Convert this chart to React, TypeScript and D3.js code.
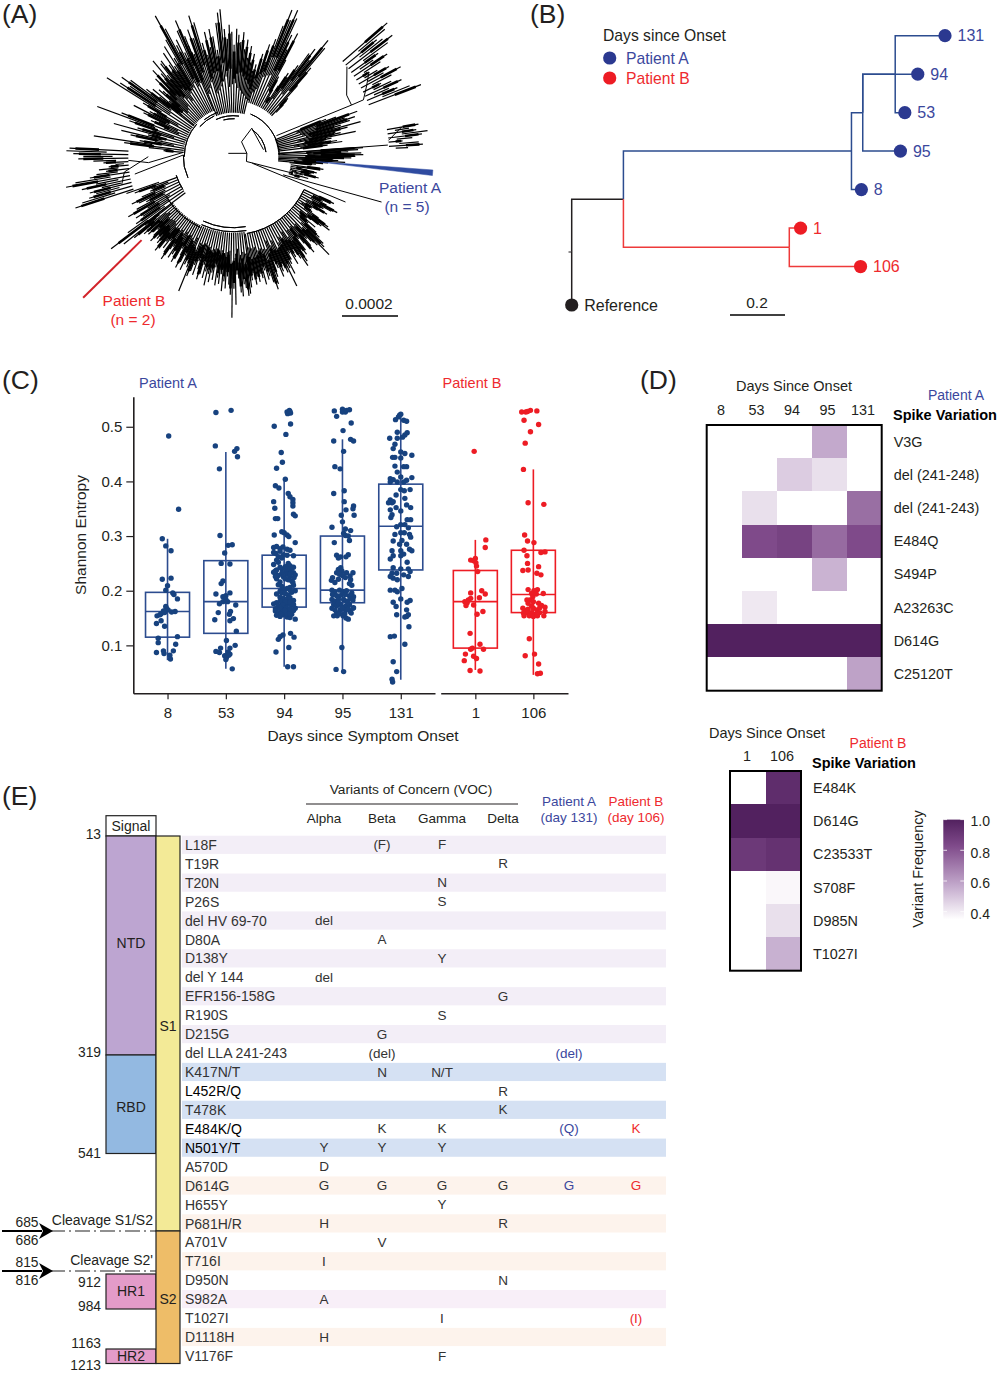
import React, { useRef, useEffect } from 'react';
import * as d3 from 'd3';

const FONT = '"Liberation Sans", Arial, sans-serif';
const INK = '#231f20';
const BLUE_TXT = '#3b479d';
const RED_TXT = '#ee2a2e';
const BLUE_MARK = '#17427f';
const BLUE_BOX = '#2c4c8f';
const RED_MARK = '#ed1c24';

// ---------- panel A: radial tree, angles in degrees clockwise from north, radii
interface Clade { from: number; to: number; inner: number; tips: number[] }

const clades: Clade[] = [
  { from: 16, to: 44, inner: 56, tips: [107, 88, 118, 100, 125, 140, 158, 148, 160, 152, 135, 120, 139, 110, 92, 78, 70, 84, 100, 96, 112, 128, 135, 123, 150, 142, 118, 96, 80, 72] },
  { from: 338, to: 375, inner: 44, tips: [120, 110, 135, 125, 148, 140, 118, 105, 128, 112, 130, 122, 108, 135, 145, 148, 128, 118, 132, 125, 112, 128, 122, 115, 125, 108, 118, 100, 112, 96, 105, 88, 95, 85] },
  { from: 309, to: 338, inner: 50, tips: [90, 105, 85, 100, 96, 88, 110, 92, 118, 100, 110, 125, 105, 118, 120, 105, 112, 125, 108, 130, 115, 135, 161, 145, 125, 130, 115, 138, 148, 130] },
  { from: 275, to: 309, inner: 50, tips: [70, 85, 110, 141, 95, 80, 105, 115, 88, 124, 100, 85, 110, 145, 120, 75, 90, 82, 100, 112, 95, 88, 105, 149, 135, 125, 137, 128, 110, 95] },
  { from: 252, to: 273, inner: 105, tips: [166, 158, 150, 142, 148, 135, 155, 140, 170, 160, 145, 138, 128, 135, 125, 118, 130, 140, 155, 150, 160, 167, 164] },
  { from: 233, to: 251, inner: 60, tips: [153, 130, 118, 108, 115, 100, 121, 110, 98, 105, 112, 100, 90, 88, 105, 113] },
  { from: 172, to: 233, inner: 76, tips: [125, 138, 140, 132, 128, 140, 136, 122, 118, 148, 132, 161, 138, 128, 120, 132, 125, 135, 118, 128, 122, 130, 112, 125, 118, 128, 120, 132, 118, 125, 112, 122, 128, 118, 110, 125, 115, 122, 128, 145, 120, 112, 118, 125, 110, 118, 125, 112, 105, 118, 122, 110, 115, 120, 108, 112, 125, 118, 105, 115, 108, 118, 122, 110, 115, 105, 112, 108, 118, 112, 105, 110, 115, 100, 118, 108, 128, 140, 112, 100] },
  { from: 115, to: 172, inner: 78, tips: [111, 108, 100, 105, 118, 112, 104, 98, 110, 100, 94, 90, 96, 105, 118, 121, 112, 100, 96, 108, 100, 112, 118, 125, 128, 137, 122, 115, 110, 118, 125, 112, 105, 118, 122, 115, 128, 132, 122, 110, 118, 125, 112, 118, 122, 132, 125, 144, 128, 118, 125, 130, 120, 112, 128, 135, 140, 132, 125, 128, 118, 132, 125, 120, 128, 122, 130, 118, 125, 132] },
  { from: 49, to: 69, inner: 145, tips: [204, 198, 185, 190, 200, 192, 178, 170, 185, 175, 160, 168, 180, 172, 190, 178, 165, 175, 185, 170, 178, 190, 201] },
  { from: 68, to: 83, inner: 45, tips: [100, 110, 132, 118, 128, 122, 112, 132, 118, 105, 110, 125, 100, 92, 105, 110, 95] },
  { from: 80, to: 87, inner: 156, tips: [188, 178, 185, 196, 190, 180, 170, 186, 190, 175] },
  { from: 86, to: 96, inner: 45, tips: [130, 125, 115, 128, 130, 122, 118, 100, 105, 112, 95, 90, 83, 78] },
  { from: 98, to: 107, inner: 58, tips: [91, 88, 70, 75, 85, 60, 80, 65, 88, 72, 62, 78, 70] },
];

// [from, to, radius]
const ringArcs: number[][] = [
  [22, 88, 46], [35, 82, 33], [270, 312, 49], [312, 335, 45], [335, 368, 41], [322, 340, 47], [345, 362, 38],
  [115, 170, 78], [170, 205, 75], [170, 205, 71], [205, 240, 78], [237, 252, 60], [245, 272, 50],
];

// [angle, radius, angle, radius]
const treeStems: number[][] = [
  [304, 6, 76, 14], [76, 14, 29, 17], [29, 17, 33, 34], [33, 34, 77, 31], [76, 14, 110, 14], [110, 14, 105.5, 62],
  [110, 53, 107, 155], [109, 20, 112, 121], [64, 48, 66.4, 129], [51.6, 145, 61.5, 129], [61.5, 129, 66.4, 129], [66.4, 129, 66.4, 142],
  [66.4, 142, 62, 151], [62, 151, 58, 160], [85.7, 46, 85.7, 155], [84, 156, 80, 171], [275, 50, 266, 85], [266, 85, 268, 105],
  [272, 50, 260, 100], [270, 85, 262, 110], [262, 110, 256, 115],
];
const patientAWedge = [[93.4, 83], [93.8, 200], [95.4, 200]];
const patientBBranch = [[226.8, 206], [227.7, 124]];

// ---------- panel B: phylogeny of the patient samples
const treeNodes = [
  { id: 'root', parent: '', dist: 0, rank: 5.6, color: INK, label: '' },
  { id: 'ref', parent: 'root', dist: 0, rank: 7, color: INK, label: 'Reference' },
  { id: 'n0', parent: 'root', dist: 0.188, rank: 4.25, color: INK, label: '' },
  { id: 'n1', parent: 'n0', dist: 1.017, rank: 3, color: BLUE_BOX, label: '' },
  { id: 'nr', parent: 'n0', dist: 0.791, rank: 5.5, color: '#ee3a3a', label: '' },
  { id: 'x', parent: 'n1', dist: 1.058, rank: 2, color: BLUE_BOX, label: '' },
  { id: 's8', parent: 'n1', dist: 1.053, rank: 4, color: BLUE_BOX, label: '8' },
  { id: 's95', parent: 'x', dist: 1.195, rank: 3, color: BLUE_BOX, label: '95' },
  { id: 's94', parent: 'x', dist: 1.258, rank: 1, color: BLUE_BOX, label: '94' },
  { id: 'y', parent: 'x', dist: 1.176, rank: 1, color: BLUE_BOX, label: '' },
  { id: 's131', parent: 'y', dist: 1.357, rank: 0, color: BLUE_BOX, label: '131' },
  { id: 's53', parent: 'y', dist: 1.211, rank: 2, color: BLUE_BOX, label: '53' },
  { id: 's1', parent: 'nr', dist: 0.832, rank: 5, color: '#ee3a3a', label: '1' },
  { id: 's106', parent: 'nr', dist: 1.05, rank: 6, color: '#ee3a3a', label: '106' },
];

// ---------- panel C: boxes are [whiskerLow, q1, median, q3, whiskerHigh], points are [jitter, entropy]
const daysA = ['8', '53', '94', '95', '131'];
const daysB = ['1', '106'];
const boxes: Record<string, number[]> = {
  '8': [0.073, 0.115, 0.162, 0.197, 0.295],
  '53': [0.057, 0.122, 0.18, 0.255, 0.454],
  '94': [0.061, 0.17, 0.204, 0.265, 0.402],
  '95': [0.052, 0.178, 0.201, 0.3, 0.477],
  '131': [0.037, 0.238, 0.318, 0.395, 0.524],
  '1': [0.055, 0.095, 0.18, 0.237, 0.293],
  '106': [0.046, 0.16, 0.193, 0.274, 0.422],
};
const points: Record<string, number[][]> = {
  '8': [[.02, .483], [.19, .349], [-.09, .295], [-.03, .282], [.06, .273], [.06, .223], [-.09, .221], [0, .209], [-.03, .201], [.09, .196], [.11, .193], [.17, .185], [-.03, .171], [-.02, .168], [-.07, .163], [.01, .165], [.13, .162], [.07, .161], [-.11, .158], [-.05, .16], [-.18, .154], [-.13, .156], [-.19, .14], [-.11, .145], [-.05, .135], [-.16, .113], [.17, .116], [-.16, .105], [.14, .102], [-.19, .087], [-.07, .09], [-.06, .085], [.1, .09], [.04, .082], [.05, .075]],
  '53': [[-.17, .526], [.09, .53], [-.18, .465], [.19, .46], [.15, .455], [.2, .445], [-.11, .423], [-.1, .301], [.04, .283], [.11, .284], [-.02, .269], [-.08, .25], [.07, .249], [-.05, .218], [-.08, .213], [-.17, .194], [0, .191], [.07, .196], [-.05, .189], [0, .184], [-.05, .18], [-.11, .176], [.03, .18], [.17, .174], [.08, .162], [-.13, .16], [.06, .157], [.13, .149], [.07, .145], [-.19, .147], [.18, .126], [.01, .109], [.16, .1], [-.09, .095], [.07, .095], [-.17, .089], [-.11, .087], [.04, .088], [.07, .084], [-.02, .081], [.01, .078], [.05, .082], [0, .074], [.11, .057]],
  '94': [[.05, .527], [.09, .53], [.11, .525], [.06, .524], [.1, .528], [-.17, .501], [.11, .505], [.03, .486], [-.05, .453], [-.03, .435], [-.13, .424], [.02, .404], [-.15, .392], [-.09, .388], [.07, .378], [.1, .372], [.15, .367], [.15, .361], [.15, .355], [-.18, .363], [-.16, .351], [.16, .34], [.19, .337], [-.15, .332], [-.11, .332], [-.04, .308], [0, .306], [.05, .302], [-.17, .302], [.08, .299], [.19, .288],
    [-.18, .279], [-.13, .281], [-.07, .277], [-.02, .28], [.05, .276], [.1, .274], [-.18, .27], [-.14, .268], [-.07, .272], [-.01, .266], [.05, .265], [.16, .264], [-.1, .262], [-.04, .26],
    [-.13, .256], [-.1, .252], [-.18, .248], [.07, .25], [.1, .246], [.02, .244], [.16, .243], [.05, .24], [-.04, .24], [-.13, .238], [-.15, .236], [.1, .238], [.13, .241], [.03, .235], [-.07, .243],
    [-.18, .234], [-.15, .231], [-.1, .228], [-.04, .232], [.05, .23], [.1, .226], [.16, .233], [.19, .229], [-.01, .225], [-.13, .222], [.07, .22], [.13, .218], [-.07, .216], [-.15, .226], [.17, .224], [.02, .222], [.11, .231], [.15, .215],
    [-.1, .211], [-.04, .208], [.1, .206], [.16, .21], [.05, .204], [-.07, .199], [-.01, .202], [.13, .197], [-.13, .194], [.07, .192], [.19, .2], [-.04, .196], [.11, .2], [.02, .195],
    [-.07, .188], [-.01, .186], [.05, .184], [.1, .187], [.16, .182], [-.18, .176], [-.13, .178], [-.1, .172], [.07, .176], [.13, .174], [-.04, .178], [.02, .171], [.19, .168], [-.15, .167], [-.07, .181], [.02, .18], [.1, .179], [.16, .175], [-.02, .174],
    [-.15, .163], [-.1, .16], [-.04, .165], [.02, .158], [.07, .162], [.13, .157], [-.13, .155], [-.07, .153], [-.01, .156], [.05, .152], [.1, .151], [.19, .148], [-.07, .168], [.04, .168], [.1, .167], [.16, .164], [-.02, .161], [.05, .158], [-.05, .158], [.1, .158], [.01, .164], [-.07, .116], [-.02, .119], [-.1, .111], [.11, .122], [.17, .115], [.08, .096], [-.14, .088], [.06, .061], [.16, .061]],
  '95': [[-.14, .529], [0, .532], [.05, .527], [0, .527], [.12, .531], [.07, .53], [-.1, .519], [.15, .507], [.01, .493], [-.15, .474], [.14, .477], [.19, .474], [.02, .455], [-.13, .427], [-.04, .423], [.03, .383], [-.15, .378], [.03, .363], [.19, .355], [.18, .35], [.06, .348], [-.02, .338], [.2, .338], [0, .326], [-.18, .316], [.05, .313], [.02, .305], [.14, .31], [.05, .301], [.1, .3], [.12, .292], [-.14, .288],
    [-.1, .265], [-.03, .262], [-.07, .26], [.1, .266], [.06, .262],
    [-.07, .239], [-.01, .236], [-.1, .233], [.07, .233], [.18, .233], [-.05, .23], [-.17, .224], [0, .228], [-.19, .219], [.14, .22], [-.07, .221], [.05, .224], [.12, .213], [.16, .21], [-.03, .242], [.13, .227], [-.13, .215],
    [-.18, .201], [-.13, .198], [-.05, .201], [.02, .198], [.07, .2], [.16, .196], [-.17, .193], [-.1, .191], [-.01, .193], [.12, .191], [.19, .189], [.05, .193], [-.06, .19], [.15, .19],
    [-.18, .184], [-.13, .181], [-.07, .184], [.02, .184], [.07, .181], [.13, .185], [.18, .183], [-.15, .175], [-.1, .172], [-.03, .175], [.05, .171], [.12, .175], [.19, .169], [-.18, .168], [-.13, .165], [-.04, .165], [.05, .165], [.13, .162], [.18, .168], [-.15, .154], [-.09, .154], [.01, .154], [.06, .15], [.1, .148], [-.07, .178], [.09, .178], [-.01, .169], [.1, .166], [-.1, .16], [.04, .158], [-.05, .158], [.15, .159],
    [-.01, .096], [-.11, .056], [.02, .052]],
  '131': [[-.02, .521], [-.04, .518], [-.09, .513], [0, .523], [.05, .512], [.1, .51], [-.06, .49], [.11, .489], [.07, .485], [-.19, .479], [-.06, .479], [.03, .481], [-.1, .468], [-.13, .46], [0, .454], [.07, .451], [.19, .448], [-.1, .444], [-.14, .444], [0, .443], [.05, .427], [.1, .427], [-.1, .428], [-.06, .417], [0, .408], [-.18, .405], [-.13, .403], [.19, .407], [.1, .402], [-.06, .399], [-.18, .399], [.05, .399], [0, .385], [.16, .385], [.06, .383], [-.08, .375], [.07, .369], [-.18, .366], [-.15, .361], [-.21, .361], [-.13, .363],
    [.1, .357], [.17, .352], [-.08, .352], [0, .346], [-.18, .348], [-.15, .339], [-.17, .334], [.17, .33], [.11, .33], [.07, .321], [0, .321], [-.07, .317], [.13, .315], [.06, .306], [-.1, .303], [0, .306], [.15, .303], [-.13, .291], [.02, .292], [.17, .298], [-.02, .285], [-.15, .273], [.1, .285], [.15, .276], [.19, .273], [0, .273], [.05, .267], [-.13, .264], [-.18, .258], [0, .264], [.11, .252], [-.13, .242], [0, .24], [.13, .24], [-.15, .232], [-.07, .232], [.16, .235], [.05, .229], [-.13, .223], [-.18, .226], [-.06, .22], [.13, .226], [-.1, .201], [-.18, .201], [.02, .204], [-.06, .198], [0, .185], [.16, .182], [.11, .179], [-.13, .179], [-.08, .171], [.1, .165], [.13, .156], [-.07, .156], [.1, .153], [.07, .152], [.14, .134], [-.18, .116], [-.11, .117], [.07, .102], [-.13, .07], [-.07, .052], [-.15, .038], [-.14, .033]],
  '1': [[-.02, .455], [.18, .293], [.17, .279], [-.08, .256], [0, .259], [-.03, .255], [.01, .251], [.02, .245], [.04, .235], [-.08, .196], [.11, .2], [.17, .194], [.07, .187], [-.12, .183], [-.08, .186], [-.18, .18], [-.16, .173], [-.03, .174], [-.14, .178], [.13, .162], [.03, .157], [-.09, .122], [.08, .102], [-.05, .095], [.14, .093], [-.17, .084], [-.08, .093], [-.03, .08], [.02, .076], [-.19, .072], [-.09, .054], [.08, .053]],
  '106': [[-.2, .527], [-.13, .527], [-.05, .53], [.06, .529], [-.1, .528], [-.16, .512], [.09, .504], [-.05, .491], [-.14, .47], [-.17, .422], [-.09, .361], [.18, .358], [-.15, .302], [-.1, .291], [.01, .288], [-.16, .274], [.13, .27], [.2, .271], [-.11, .264], [-.1, .25], [.09, .244], [-.18, .237], [-.09, .238], [.06, .232], [.13, .229],
    [-.09, .202], [.07, .202], [.01, .2], [-.03, .195], [.17, .195], [-.01, .189], [.05, .194], [-.11, .183], [-.06, .183], [0, .18], [-.09, .177], [.09, .177], [-.03, .172], [.14, .173], [-.18, .168], [-.14, .164], [-.09, .166], [0, .168], [.06, .165], [.11, .169], [.2, .17], [-.17, .159], [-.09, .159], [-.03, .16], [.03, .156], [.11, .16], [.2, .162], [-.16, .154], [-.07, .154], [0, .153], [.07, .154], [.18, .154],
    [-.07, .112], [-.14, .081], [.02, .084], [.09, .066], [.07, .048], [.12, .049]],
};
const entropyTicks = [0.1, 0.2, 0.3, 0.4, 0.5];

// ---------- panel D: variant frequency, 0 means not detected
const freqDomain = [0.35, 0.57, 0.83, 1];
const freqColors = ['#ffffff', '#c3a9cc', '#7f4a8a', '#52215f'];
const freqTicks = [0.4, 0.6, 0.8, 1.0];
const patientAVariants = ['V3G', 'del (241-248)', 'del (241-243)', 'E484Q', 'S494P', 'A23263C', 'D614G', 'C25120T'];
const patientAFreq = [
  [0, 0, 0, 0.57, 0],
  [0, 0, 0.48, 0.43, 0],
  [0, 0.43, 0, 0, 0.73],
  [0, 0.83, 0.86, 0.74, 0.83],
  [0, 0, 0, 0.545, 0],
  [0, 0.41, 0, 0, 0],
  [1, 1, 1, 1, 1],
  [0, 0, 0, 0, 0.59],
];
const patientBVariants = ['E484K', 'D614G', 'C23533T', 'S708F', 'D985N', 'T1027I'];
const patientBFreq = [
  [0, 0.95],
  [1, 1],
  [0.9, 0.93],
  [0, 0.37],
  [0, 0.43],
  [0, 0.55],
];

// ---------- panel E: spike mutation table
const mutations = ['L18F', 'T19R', 'T20N', 'P26S', 'del HV 69-70', 'D80A', 'D138Y', 'del Y 144', 'EFR156-158G', 'R190S', 'D215G', 'del LLA 241-243', 'K417N/T', 'L452R/Q', 'T478K', 'E484K/Q', 'N501Y/T', 'A570D', 'D614G', 'H655Y', 'P681H/R', 'A701V', 'T716I', 'D950N', 'S982A', 'T1027I', 'D1118H', 'V1176F'];
const keyMutations = ['L452R/Q', 'E484K/Q', 'N501Y/T'];
const rowTint = ['p', '', 'p', '', 'p', '', 'p', '', 'p', '', 'p', '', 'b', '', 'b', '', 'b', '', 'o', '', 'o', '', 'o', '', 'k', '', 'o', ''];
const tintFill: Record<string, string> = { p: '#f3eef7', b: '#d5e1f3', o: '#fdf3ec', k: '#f8eff8', '': 'none' };
const alphaCalls = ['', '', '', '', 'del', '', '', 'del', '', '', '', '', '', '', '', '', 'Y', 'D', 'G', '', 'H', '', 'I', '', 'A', '', 'H', ''];
const betaCalls = ['(F)', '', '', '', '', 'A', '', '', '', '', 'G', '(del)', 'N', '', '', 'K', 'Y', '', 'G', '', '', 'V', '', '', '', '', '', ''];
const gammaCalls = ['F', '', 'N', 'S', '', '', 'Y', '', '', 'S', '', '', 'N/T', '', '', 'K', 'Y', '', 'G', 'Y', '', '', '', '', '', 'I', '', 'F'];
const deltaCalls = ['', 'R', '', '', '', '', '', '', 'G', '', '', '', '', 'R', 'K', '', '', '', 'G', '', 'R', '', '', 'N', '', '', '', ''];
const patientACalls = ['', '', '', '', '', '', '', '', '', '', '', '(del)', '', '', '', '(Q)', '', '', 'G', '', '', '', '', '', '', '', '', ''];
const patientBCalls = ['', '', '', '', '', '', '', '', '', '', '', '', '', '', '', 'K', '', '', 'G', '', '', '', '', '', '', '(I)', '', ''];

const spikeDomains = [
  { name: 'Signal', start: 1, end: 13, fill: '#ffffff' },
  { name: 'NTD', start: 13, end: 319, fill: '#bda5d1' },
  { name: 'RBD', start: 319, end: 541, fill: '#93b9e1' },
  { name: 'HR1', start: 912, end: 984, fill: '#e39bc9' },
  { name: 'HR2', start: 1163, end: 1213, fill: '#e39bc9' },
];
const domainLabelShift: Record<string, number> = { NTD: -2, RBD: 3 };
const spikeSubunits = [
  { name: 'S1', start: 13, end: 685, fill: '#f3ea97' },
  { name: 'S2', start: 685, end: 1213, fill: '#eebd68' },
];
const cleavageSites = [
  { residue: 685, name: 'Cleavage S1/S2', above: '685', below: '686' },
  { residue: 815, name: "Cleavage S2'", above: '815', below: '816' },
];
// residue numbers to drawn height: the figure's bar is stretched to line up with the table rows
const residueStops = [1, 13, 319, 541, 685, 815, 912, 984, 1163, 1213];
const residueHeights = [815.7, 836, 1055, 1153.5, 1231, 1271, 1274, 1309, 1349, 1363.5];
const residueLabels = [
  { residue: 13, text: '13', dy: -2 }, { residue: 319, text: '319', dy: -3 }, { residue: 541, text: '541', dy: 0 },
  { residue: 912, text: '912', dy: 8 }, { residue: 984, text: '984', dy: -3 }, { residue: 1163, text: '1163', dy: -5.5 }, { residue: 1213, text: '1213', dy: 2 },
];

type Sel = d3.Selection<SVGGElement, unknown, null, undefined>;

function label(g: Sel, x: number, y: number, s: string, size: number, fill = INK, anchor = 'middle', weight = 'normal') {
  return g.append('text')
    .attr('x', x).attr('y', y).attr('dy', '0.35em')
    .attr('font-size', size).attr('fill', fill)
    .attr('text-anchor', anchor).attr('font-weight', weight)
    .text(s);
}

function drawTreeA(g: Sel) {
  const cx = 233.3, cy = 156.7;
  const polar = (angle: number, r: number) => {
    const [x, y] = d3.pointRadial((angle * Math.PI) / 180, r);
    return [cx + x, cy + y] as [number, number];
  };
  const line = d3.line();

  clades.forEach(c => {
    const a = d3.scaleLinear().domain([0, c.tips.length - 1]).range([c.from, c.to]);
    c.tips.forEach((tip, i) => {
      const span = tip - c.inner;
      // every other branch forks off further out, so the inner part stays open as in the figure
      const start = i % 2 ? c.inner + span * 0.35 : c.inner;
      g.append('path')
        .attr('d', line([polar(a(i), start), polar(a(i), tip)]))
        .attr('stroke', '#000').attr('stroke-width', 1.2).attr('fill', 'none');
      if (i % 2 === 0) {
        g.append('path')
          .attr('d', line([polar(a(i), c.inner + span * 0.5), polar(a(i), c.inner + span * 0.9)]))
          .attr('stroke', '#000').attr('stroke-width', 2.6).attr('fill', 'none');
      }
    });
  });

  const arc = d3.arc();
  ringArcs.forEach(([from, to, r]) => {
    g.append('path')
      .attr('transform', `translate(${cx},${cy})`)
      .attr('d', arc({ innerRadius: r, outerRadius: r, startAngle: (from * Math.PI) / 180, endAngle: (to * Math.PI) / 180 }))
      .attr('stroke', '#000').attr('stroke-width', 1).attr('fill', 'none');
  });

  treeStems.forEach(([a1, r1, a2, r2]) => {
    g.append('path')
      .attr('d', line([polar(a1, r1), polar(a2, r2)]))
      .attr('stroke', '#000').attr('stroke-width', 1).attr('fill', 'none');
  });

  g.append('path')
    .attr('d', line(patientAWedge.map(([a, r]) => polar(a, r))) + 'Z')
    .attr('fill', '#2f4ba0').attr('stroke', '#2f4ba0').attr('stroke-width', 0.5);
  g.append('path')
    .attr('d', line(patientBBranch.map(([a, r]) => polar(a, r))))
    .attr('stroke', '#d2232a').attr('stroke-width', 2).attr('fill', 'none');

  label(g, 410, 188, 'Patient A', 15.5, BLUE_TXT);
  label(g, 407, 207, '(n = 5)', 15.5, BLUE_TXT);
  label(g, 134, 301, 'Patient B', 15.5, RED_TXT);
  label(g, 133, 320, '(n = 2)', 15.5, RED_TXT);
  label(g, 369, 304, '0.0002', 15.5);
  g.append('line').attr('x1', 342).attr('x2', 398).attr('y1', 316).attr('y2', 316).attr('stroke', '#000').attr('stroke-width', 1.4);
}

function drawTreeB(g: Sel) {
  const x = d3.scaleLinear().domain([0, 1.357]).range([571.7, 945]);
  const y = d3.scaleLinear().domain([0, 7]).range([35.7, 305]);
  const byId = new Map(treeNodes.map(n => [n.id, n]));

  treeNodes.filter(n => n.parent).forEach(n => {
    const p = byId.get(n.parent)!;
    g.append('path')
      .attr('d', `M${x(p.dist)},${y(p.rank)}V${y(n.rank)}H${x(n.dist)}`)
      .attr('fill', 'none').attr('stroke', n.color).attr('stroke-width', 1.5);
  });
  g.append('line').attr('x1', 568.5).attr('x2', 571.7).attr('y1', 252).attr('y2', 252).attr('stroke', INK).attr('stroke-width', 1);

  treeNodes.filter(n => n.label).forEach(n => {
    const col = n.id === 'ref' ? '#231f20' : n.color === BLUE_BOX ? '#2b3990' : '#ed1c24';
    g.append('circle').attr('cx', x(n.dist)).attr('cy', y(n.rank)).attr('r', 6.6).attr('fill', col);
    const txtCol = n.id === 'ref' ? INK : n.color === BLUE_BOX ? BLUE_TXT : RED_TXT;
    label(g, x(n.dist) + 12.5, y(n.rank), n.label, 16, txtCol, 'start');
  });

  label(g, 603, 36, 'Days since Onset', 15.7, INK, 'start');
  g.append('circle').attr('cx', 609.7).attr('cy', 58).attr('r', 6.6).attr('fill', '#2b3990');
  label(g, 626, 58.5, 'Patient A', 15.7, BLUE_TXT, 'start');
  g.append('circle').attr('cx', 609.7).attr('cy', 78).attr('r', 6.6).attr('fill', RED_MARK);
  label(g, 626, 78.5, 'Patient B', 15.7, RED_TXT, 'start');

  label(g, 757, 303, '0.2', 15.5);
  g.append('line').attr('x1', 730).attr('x2', 785).attr('y1', 315).attr('y2', 315).attr('stroke', '#000').attr('stroke-width', 1.4);
}

function drawBoxes(g: Sel) {
  const y = d3.scaleLinear().domain([0.0123, 0.555]).range([693.3, 396.7]);
  const xA = d3.scalePoint<string>().domain(daysA).range([133.3, 435]).padding(0.587);
  const xB = d3.scalePoint<string>().domain(daysB).range([440.7, 568]).padding(0.597);

  const yAxis = g.append('g').attr('transform', 'translate(133.3,0)')
    .call(d3.axisLeft(y).tickValues(entropyTicks).tickFormat(d3.format('.1f')).tickSize(7).tickPadding(4).tickSizeOuter(0));
  const axA = g.append('g').attr('transform', 'translate(0,693.3)').call(d3.axisBottom(xA).tickSize(6).tickSizeOuter(0));
  const axB = g.append('g').attr('transform', 'translate(0,693.3)').call(d3.axisBottom(xB).tickSize(6).tickSizeOuter(0));
  [yAxis, axA, axB].forEach(ax => {
    ax.attr('font-family', FONT).attr('font-size', 15);
    ax.selectAll('text').attr('fill', INK);
    ax.selectAll('line').attr('stroke', INK).attr('stroke-width', 1.2);
    ax.select('.domain').attr('stroke', INK).attr('stroke-width', 1.6);
  });
  axA.selectAll('text').attr('dy', '1.05em');
  axB.selectAll('text').attr('dy', '1.05em');

  const halfBox = 22;
  const slot = 58.3;
  const drawDay = (day: string, cx: number, lineCol: string, dotCol: string) => {
    const [lo, q1, med, q3, hi] = boxes[day];
    g.append('line').attr('x1', cx).attr('x2', cx).attr('y1', y(lo)).attr('y2', y(hi)).attr('stroke', lineCol).attr('stroke-width', 1.6);
    g.append('rect').attr('x', cx - halfBox).attr('width', halfBox * 2).attr('y', y(q3)).attr('height', y(q1) - y(q3))
      .attr('fill', 'none').attr('stroke', lineCol).attr('stroke-width', 1.6);
    g.append('line').attr('x1', cx - halfBox).attr('x2', cx + halfBox).attr('y1', y(med)).attr('y2', y(med)).attr('stroke', lineCol).attr('stroke-width', 1.6);
    g.append('g').selectAll('circle').data(points[day]).enter().append('circle')
      .attr('cx', d => cx + d[0] * slot).attr('cy', d => y(d[1])).attr('r', 2.7).attr('fill', dotCol);
  };
  daysA.forEach(d => drawDay(d, xA(d)!, BLUE_BOX, BLUE_MARK));
  daysB.forEach(d => drawDay(d, xB(d)!, RED_MARK, RED_MARK));

  label(g, 168, 383, 'Patient A', 14.5, BLUE_TXT);
  label(g, 472, 383, 'Patient B', 14.5, RED_TXT);
  label(g, 363, 736, 'Days since Symptom Onset', 15.5);
  label(g, 81, 535, 'Shannon Entropy', 15.5).attr('transform', 'rotate(-90 81 535)');
}

function drawHeatmap(g: Sel, rows: string[], cols: string[], freq: number[][], box: { x: number; y: number; w: number; h: number }, colLabelRange: [number, number], color: (v: number) => string) {
  const x = d3.scaleBand<string>().domain(cols).range([box.x, box.x + box.w]);
  const y = d3.scaleBand<string>().domain(rows).range([box.y, box.y + box.h]);
  const colLabel = d3.scalePoint<string>().domain(cols).range(colLabelRange);
  rows.forEach((r, i) => {
    cols.forEach((c, j) => {
      if (!freq[i][j]) return;
      g.append('rect').attr('x', x(c)!).attr('y', y(r)!).attr('width', x.bandwidth()).attr('height', y.bandwidth())
        .attr('fill', color(freq[i][j])).attr('shape-rendering', 'crispEdges');
    });
    label(g, box.x + box.w + 12, y(r)! + y.bandwidth() / 2, r, 14.4, INK, 'start');
  });
  cols.forEach(c => label(g, colLabel(c)!, box.y - 15, c, 14.4));
  g.append('rect').attr('x', box.x).attr('y', box.y).attr('width', box.w).attr('height', box.h)
    .attr('fill', 'none').attr('stroke', '#000').attr('stroke-width', 2);
}

function drawHeatmaps(g: Sel, svg: d3.Selection<SVGSVGElement, unknown, null, undefined>) {
  const color = d3.scaleLinear<string>().domain(freqDomain).range(freqColors);
  drawHeatmap(g, patientAVariants, daysA, patientAFreq, { x: 706.7, y: 425, w: 175, h: 265.7 }, [721, 863], color);
  label(g, 794, 386, 'Days Since Onset', 14.5);
  label(g, 956, 395.5, 'Patient A', 14, BLUE_TXT);
  label(g, 893, 415, 'Spike Variation', 14.5, '#000', 'start', 'bold');

  drawHeatmap(g, patientBVariants, daysB, patientBFreq, { x: 730, y: 771, w: 71, h: 199.7 }, [747, 782], color);
  label(g, 767, 733, 'Days Since Onset', 14.5);
  label(g, 878, 743, 'Patient B', 14, RED_TXT);
  label(g, 812, 763, 'Spike Variation', 14.5, '#000', 'start', 'bold');

  // colour legend
  const legend = d3.scaleLinear().domain([0.4, 1]).range([911.7, 819.6]);
  const grad = svg.append('defs').append('linearGradient').attr('id', 'freqGrad')
    .attr('x1', 0).attr('x2', 0).attr('y1', 1).attr('y2', 0);
  freqDomain.forEach((v, i) => grad.append('stop').attr('offset', (v - 0.35) / 0.65).attr('stop-color', freqColors[i]));
  g.append('rect').attr('x', 943.3).attr('width', 20.7).attr('y', legend(1)).attr('height', legend(0.35) - legend(1)).attr('fill', 'url(#freqGrad)');
  freqTicks.forEach(t => {
    g.append('line').attr('x1', 943.3).attr('x2', 947).attr('y1', legend(t)).attr('y2', legend(t)).attr('stroke', '#fff').attr('stroke-width', 0.8);
    g.append('line').attr('x1', 960.3).attr('x2', 964).attr('y1', legend(t)).attr('y2', legend(t)).attr('stroke', '#fff').attr('stroke-width', 0.8);
    label(g, 970.5, legend(t) + (t === 1 ? 1 : 2.5), t.toFixed(1), 14, INK, 'start');
  });
  label(g, 918, 869, 'Variant Frequency', 14.5).attr('transform', 'rotate(-90 918 869)');
}

function drawSpike(g: Sel) {
  const row = d3.scaleBand<string>().domain(mutations).range([835.7, 835.7 + 28 * 18.93]);
  const residue = d3.scaleLinear().domain(residueStops).range(residueHeights);

  mutations.forEach((m, i) => {
    const top = row(m)!;
    if (rowTint[i]) {
      g.append('rect').attr('x', 182).attr('width', 484).attr('y', top).attr('height', 18.2).attr('fill', tintFill[rowTint[i]]);
    }
    label(g, 185, top + 9.3, m, 14, keyMutations.includes(m) ? '#000' : '#333', 'start');
  });

  const columns: [number, string[], string][] = [
    [324, alphaCalls, '#333'], [382, betaCalls, '#333'], [442, gammaCalls, '#333'], [503, deltaCalls, '#333'],
    [569, patientACalls, BLUE_TXT], [636, patientBCalls, RED_TXT],
  ];
  columns.forEach(([x, calls, col]) => {
    calls.forEach((c, i) => {
      if (c) label(g, x, row(mutations[i])! + 9, c, 13.5, col);
    });
  });

  label(g, 411, 789, 'Variants of Concern (VOC)', 13.7);
  g.append('line').attr('x1', 306).attr('x2', 518).attr('y1', 804).attr('y2', 804).attr('stroke', INK).attr('stroke-width', 1.2);
  ['Alpha', 'Beta', 'Gamma', 'Delta'].forEach((h, i) => label(g, columns[i][0], 818, h, 13.5));
  label(g, 569, 801, 'Patient A', 13.5, BLUE_TXT);
  label(g, 569, 817.5, '(day 131)', 13.5, BLUE_TXT);
  label(g, 636, 801, 'Patient B', 13.5, RED_TXT);
  label(g, 636, 817.5, '(day 106)', 13.5, RED_TXT);

  spikeDomains.forEach(d => {
    g.append('rect').attr('x', 106).attr('width', 50).attr('y', residue(d.start)).attr('height', residue(d.end) - residue(d.start))
      .attr('fill', d.fill).attr('stroke', '#222').attr('stroke-width', 1.2);
    const mid = (residue(d.start) + residue(d.end)) / 2;
    label(g, 131, mid + (domainLabelShift[d.name] || 0), d.name, 14);
  });
  spikeSubunits.forEach(d => {
    g.append('rect').attr('x', 156).attr('width', 24).attr('y', residue(d.start)).attr('height', residue(d.end) - residue(d.start))
      .attr('fill', d.fill).attr('stroke', '#222').attr('stroke-width', 1.2);
    label(g, 168, d.name === 'S1' ? 1026 : 1299, d.name, 14);
  });

  residueLabels.forEach(r => label(g, 101, residue(r.residue) + r.dy, r.text, 13.8, INK, 'end'));

  cleavageSites.forEach(c => {
    const yy = residue(c.residue);
    g.append('line').attr('x1', 50).attr('x2', 156).attr('y1', yy).attr('y2', yy)
      .attr('stroke', '#222').attr('stroke-width', 1.2).attr('stroke-dasharray', '15 4 2 4');
    g.append('line').attr('x1', 2).attr('x2', 42).attr('y1', yy).attr('y2', yy).attr('stroke', '#000').attr('stroke-width', 2);
    g.append('path').attr('d', `M39,${yy - 8}L53,${yy}L39,${yy + 8}L43,${yy}Z`).attr('fill', '#000');
    label(g, 27, yy - 8.5, c.above, 13.8);
    label(g, 27, yy + 9.5, c.below, 13.8);
    label(g, 153, yy - 11, c.name, 14, INK, 'end');
  });
}

export default function App() {
  const ref = useRef<SVGSVGElement | null>(null);

  useEffect(() => {
    if (!ref.current) return;
    const svg = d3.select(ref.current);
    svg.selectAll('*').remove();
    const root = svg.append('g') as unknown as Sel;

    drawTreeA(root);
    drawTreeB(root);
    drawBoxes(root);
    drawHeatmaps(root, svg as any);
    drawSpike(root);

    [['(A)', 2, 14], ['(B)', 530, 14], ['(C)', 2, 380], ['(D)', 640, 380], ['(E)', 2, 796]].forEach(([s, x, y]) => {
      label(root, x as number, y as number, s as string, 26.5, INK, 'start');
    });
  }, []);

  return (
    <svg
      ref={ref}
      width={1000}
      height={1374}
      style={{ position: 'absolute', left: 0, top: 0, background: '#fff', fontFamily: FONT }}
    />
  );
}
